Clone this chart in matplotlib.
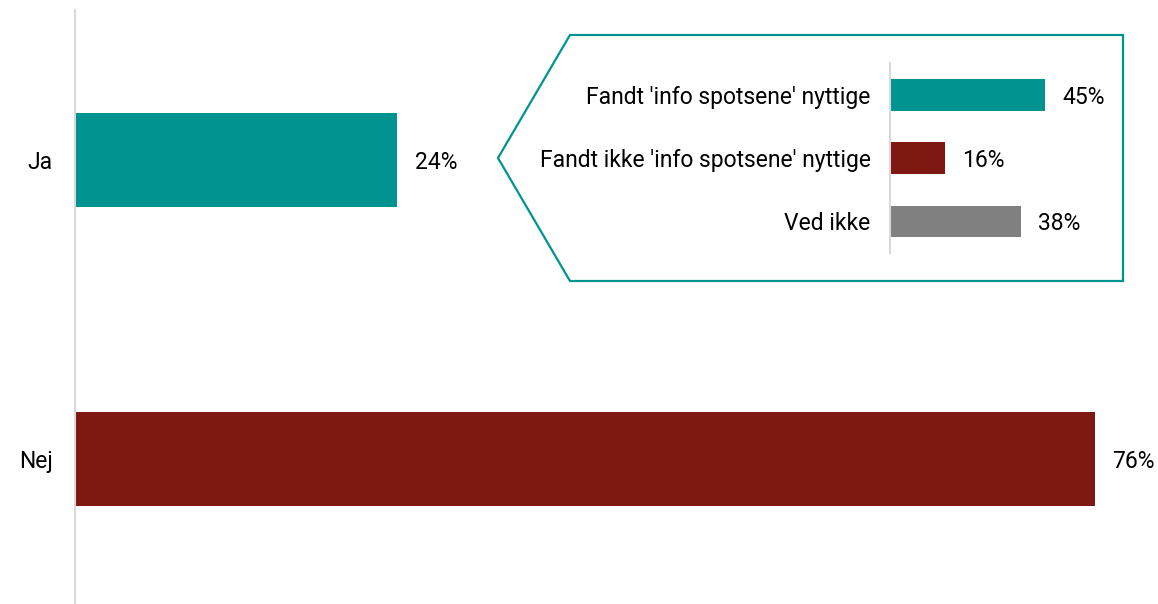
import matplotlib.pyplot as plt
from matplotlib.patches import Polygon

plt.rcParams['font.family'] = ['Roboto', 'DejaVu Sans']
plt.rcParams['font.size'] = 16.5

TEAL = '#00938f'
RED = '#7e1812'
GREY = '#808080'
AXIS = '#d9d9d9'

# main question
answers = ['Ja', 'Nej']
shares = [24, 76]
answer_colors = [TEAL, RED]

# follow-up among "Ja"
follow_labels = ["Fandt 'info spotsene' nyttige",
                 "Fandt ikke 'info spotsene' nyttige",
                 'Ved ikke']
follow_shares = [45, 16, 38]
follow_colors = [TEAL, RED, GREY]

W, H = 1158, 604
fig = plt.figure(figsize=(W / 100, H / 100), dpi=100)


def px_axes(x0, y0, x1, y1):
    # axes from pixel box (top-left origin)
    return fig.add_axes([x0 / W, 1 - y1 / H, (x1 - x0) / W, (y1 - y0) / H])


# main bars
ax = px_axes(75, 10, 1125, 604)
ax.barh(range(len(answers)), shares, height=0.314, color=answer_colors)
ax.set_xlim(0, 1050 / 13.42)
ax.set_ylim(1.485, -0.502)
for s in ['top', 'right', 'bottom']:
    ax.spines[s].set_visible(False)
ax.spines['left'].set_color(AXIS)
ax.spines['left'].set_linewidth(1.5)
ax.set_xticks([])
ax.set_yticks(range(len(answers)))
ax.set_yticklabels(answers)
ax.tick_params(axis='y', length=0, pad=16)
for i, v in enumerate(shares):
    ax.text(v + 1.3, i, f'{v}%', va='center_baseline', ha='left')

# callout box
overlay = fig.add_axes([0, 0, 1, 1], zorder=0)
overlay.set_xlim(0, W)
overlay.set_ylim(H, 0)
overlay.axis('off')
overlay.add_patch(Polygon([(570, 35), (1123, 35), (1123, 281), (570, 281), (498, 158)],
                          closed=True, fill=False, edgecolor=TEAL, linewidth=1.6))

# follow-up bars
ax2 = px_axes(890, 63, 1100, 253)
ax2.set_zorder(2)
ax2.patch.set_alpha(0)
ax2.barh(range(len(follow_labels)), follow_shares, height=0.5, color=follow_colors)
ax2.set_xlim(0, 210 / 3.44)
ax2.set_ylim(2.5, -0.5)
for s in ['top', 'right', 'bottom']:
    ax2.spines[s].set_visible(False)
ax2.spines['left'].set_color(AXIS)
ax2.spines['left'].set_linewidth(1.5)
ax2.set_xticks([])
ax2.set_yticks(range(len(follow_labels)))
ax2.set_yticklabels(follow_labels)
ax2.tick_params(axis='y', length=0, pad=14)
for i, v in enumerate(follow_shares):
    ax2.text(v + 5, i, f'{v}%', va='center_baseline', ha='left')

fig.savefig('out.png', dpi=100)
